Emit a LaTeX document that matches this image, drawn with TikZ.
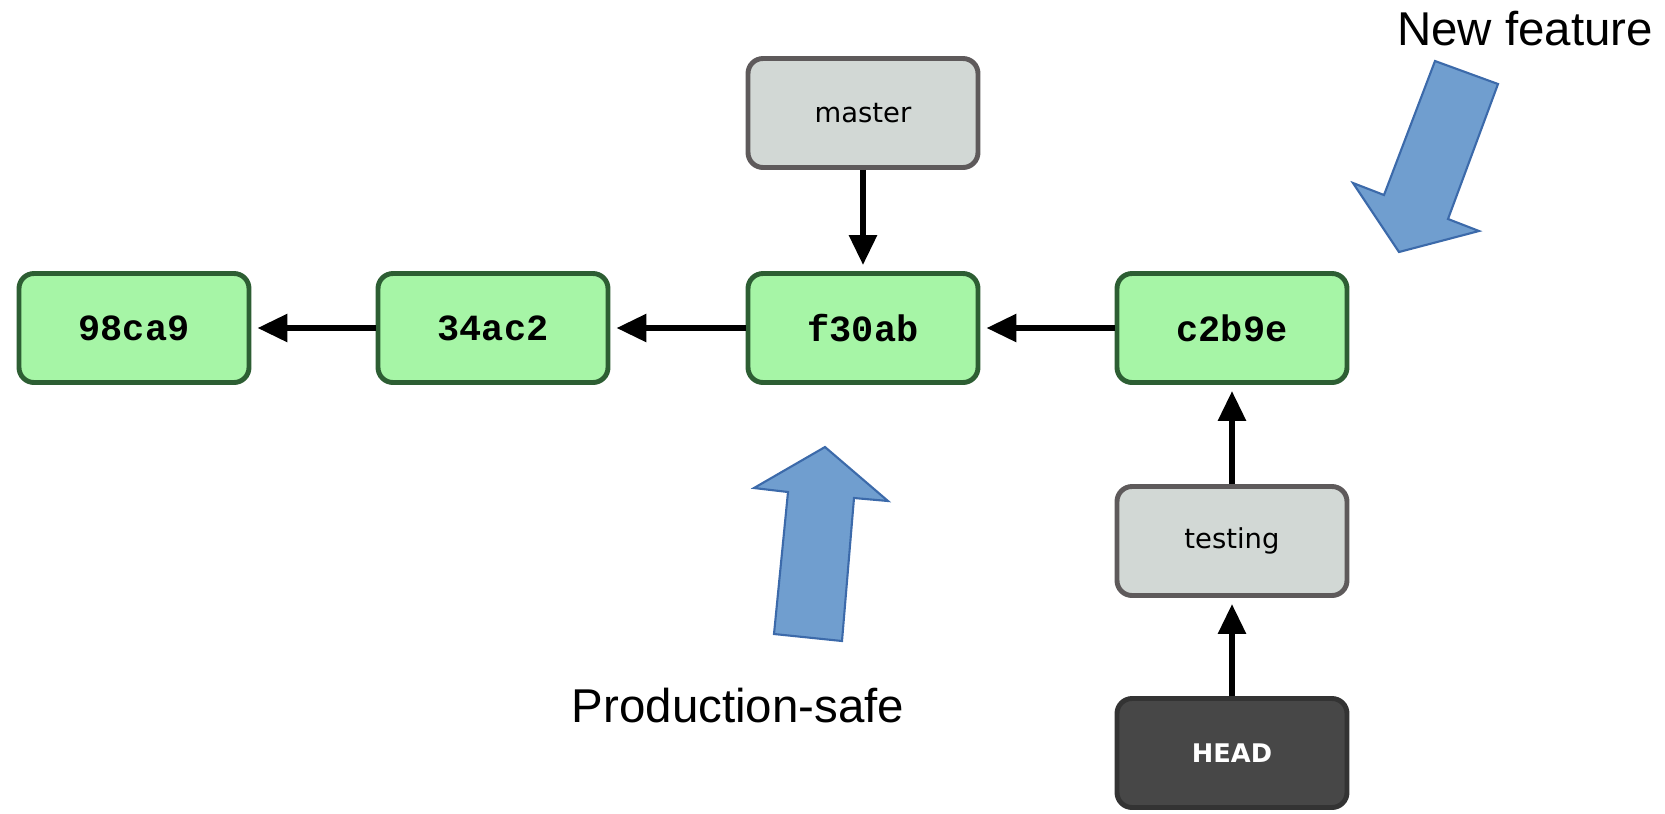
\documentclass[tikz,border=0pt]{standalone}
\usepackage{fontspec}
\setmainfont{Liberation Sans}
\newfontfamily\codefont{Liberation Mono}
\newfontfamily\branchfont{DejaVu Sans}
\usetikzlibrary{arrows.meta}
\definecolor{commitfill}{HTML}{A6F5A6}
\definecolor{commitline}{HTML}{2D5E33}
\definecolor{branchfill}{HTML}{D2D8D5}
\definecolor{branchline}{HTML}{5E5A5B}
\definecolor{headfill}{HTML}{474747}
\definecolor{headline}{HTML}{333333}
\definecolor{bluefill}{HTML}{709ECF}
\definecolor{blueline}{HTML}{3C6AAA}
\begin{document}
\begin{tikzpicture}[
  box/.style={draw, rounded corners=0.15cm, line width=1.4pt,
    minimum width=2.3cm, minimum height=1.09cm, inner sep=0pt},
  commit/.style={box, draw=commitline, fill=commitfill,
    font=\codefont\bfseries\fontsize{10.5}{12}\selectfont},
  branch/.style={box, draw=branchline, fill=branchfill,
    font=\branchfont\fontsize{7.8}{9}\selectfont},
  headbox/.style={box, draw=headline, fill=headfill, text=white,
    font=\branchfont\bfseries\fontsize{7.3}{9}\selectfont},
  link/.style={line width=1.7pt, shorten >=0.06cm,
    -{Triangle[length=0.3cm,width=0.27cm]}},
  bigarrow/.style={fill=bluefill, draw=blueline, line width=0.6pt, line join=miter},
  note/.style={font=\fontsize{13.5}{16}\selectfont, anchor=base}
]
\useasboundingbox (0,0) rectangle (16.65,-8.13);
\node[commit] at (1.34, -3.28) (c1) {98ca9};
\node[commit] at (4.93, -3.28) (c2) {34ac2};
\node[commit] at (8.63, -3.28) (c3) {f30ab};
\node[commit] at (12.32, -3.28) (c4) {c2b9e};
\node[branch] at (8.63, -1.13) (master) {master};
\node[branch] at (12.32, -5.41) (testing) {testing};
\node[headbox] at (12.32, -7.53) (head) {HEAD};
\draw[link] (c2) -- (c1);
\draw[link] (c3) -- (c2);
\draw[link] (c4) -- (c3);
\draw[link] (master) -- (c3);
\draw[link] (testing) -- (c4);
\draw[link] (head) -- (testing);
% block arrows
\draw[bigarrow] (8.25,-4.47) -- (8.88,-5.01) -- (8.54,-4.98) -- (8.42,-6.41)
  -- (7.74,-6.34) -- (7.88,-4.92) -- (7.54,-4.88) -- cycle;
\draw[bigarrow] (14.35,-0.61) -- (14.98,-0.84) -- (14.48,-2.19) -- (14.79,-2.31)
  -- (13.99,-2.52) -- (13.53,-1.83) -- (13.84,-1.95) -- cycle;
\node[note] at (7.38, -7.22) (safe) {Production-safe};
\node[note] at (15.25, -0.45) (feature) {New feature};
\end{tikzpicture}
\end{document}
